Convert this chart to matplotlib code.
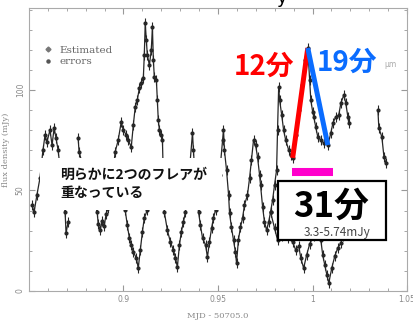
import numpy as np
import matplotlib
matplotlib.use('Agg')
import matplotlib.pyplot as plt
from matplotlib.lines import Line2D
from matplotlib.patches import Rectangle

# Light curve, upper trace (MJD - 50705.0, flux density in mJy); NaN = gap
est_mjd = [0.8516, 0.8527, 0.8542, 0.8558, 0.8574, 0.8585, 0.8595, 0.8611, 0.8622, 0.8633,
           0.8643, 0.8654, 0.8675, 0.8691, 0.8696, 0.8707, np.nan,
           0.8760, 0.8765, 0.8813, 0.8861, 0.8866, 0.8877, 0.8887, 0.8898, 0.8908, 0.8919,
           0.8940, 0.8956, 0.8972, 0.8988, 0.8999, 0.9015, 0.9025, 0.9041, 0.9052, 0.9062,
           0.9073, 0.9084, 0.9094, 0.9105, 0.9110, 0.9115, 0.9121, 0.9126, 0.9137, 0.9147,
           0.9153, 0.9158, 0.9163, 0.9174, 0.9179, 0.9184, 0.9190, 0.9200, 0.9206, 0.9211,
           0.9216, 0.9232, 0.9248, 0.9264, 0.9275, 0.9285, 0.9296, 0.9306, 0.9317, 0.9328,
           0.9349, 0.9365, 0.9370, 0.9381, 0.9397, 0.9407, 0.9418, 0.9434, 0.9444, 0.9455,
           0.9466, 0.9476, 0.9487, 0.9508, 0.9524, 0.9529, 0.9534, 0.9545, 0.9556, 0.9561,
           0.9571, 0.9582, 0.9592, 0.9598, 0.9608, 0.9619, 0.9630, 0.9640, 0.9656, 0.9667,
           0.9677, 0.9688, 0.9699, 0.9709, 0.9720, 0.9725, 0.9736, 0.9746, 0.9757, 0.9768,
           0.9778, 0.9789, 0.9799, 0.9810, 0.9815, 0.9821, 0.9826, 0.9837, 0.9847, 0.9858,
           0.9874, 0.9885, 0.9895, 0.9911, 0.9927, 0.9943, 0.9959, 0.9975, 0.9985, 0.9991,
           1.0001, 1.0007, 1.0017, 1.0028, 1.0044, 1.0060, 1.0081, 1.0097, 1.0108, 1.0123,
           1.0139, 1.0150, 1.0166, 1.0176, 1.0187, 1.0192, np.nan,
           1.0346, 1.0351, 1.0367, 1.0378, 1.0389]
est_flux = [42.8, 39.3, 47.8, 56.2, 70.1, 77.6, 74.1, 80.1, 72.6, 81.1,
            76.1, 70.1, 52.7, 39.3, 28.9, 34.3, np.nan,
            76.1, 69.2, 52.7, 39.3, 33.3, 30.3, 34.8, 32.3, 38.3, 41.3,
            55.2, 69.2, 75.1, 84.1, 80.1, 77.6, 75.1, 71.6, 82.6, 91.5,
            95.0, 101.0, 103.5, 106.0, 117.4, 133.3, 124.9, 117.4, 112.4, 119.9,
            131.3, 114.9, 106.5, 105.0, 95.0, 85.1, 80.1, 77.6, 75.1, 55.2,
            39.3, 30.3, 24.4, 20.4, 16.4, 11.9, 22.9, 29.4, 34.3, 39.3,
            60.2, 78.6, 70.1, 52.7, 39.3, 32.8, 26.4, 22.9, 16.9, 24.4,
            31.3, 36.3, 40.3, 57.7, 75.1, 80.1, 70.1, 60.2, 47.8, 38.8,
            31.8, 25.4, 19.4, 13.9, 25.4, 31.8, 36.3, 42.8, 47.8, 56.2,
            65.2, 75.1, 72.6, 66.7, 57.7, 52.7, 41.8, 34.3, 30.3, 34.3,
            39.3, 45.3, 52.7, 60.2, 80.1, 101.5, 95.0, 87.6, 80.1, 75.1,
            70.1, 67.7, 66.2, 77.6, 90.0, 102.5, 114.9, 120.9, 104.9, 95.0,
            89.1, 86.6, 81.6, 76.6, 75.1, 73.6, 72.6, 78.6, 83.6, 86.6,
            87.6, 93.5, 97.5, 93.5, 86.6, 83.6, np.nan,
            90.0, 81.1, 76.6, 66.7, 63.7]

# Lower trace
low_mjd = [0.9009, 0.9020, 0.9031, 0.9041, 0.9052, 0.9068, 0.9078, 0.9089, 0.9100, 0.9110,
           0.9126, np.nan,
           0.9778, 0.9799, 0.9815, 0.9837, 0.9868, 0.9895, 0.9911, 0.9927, 0.9938, 0.9953,
           0.9969, 0.9985, 1.0007, 1.0028, 1.0044, 1.0054, 1.0065, 1.0076, 1.0086, 1.0102,
           1.0118, 1.0134, 1.0150, 1.0161]
low_flux = [40.3, 32.8, 26.4, 22.9, 19.4, 16.4, 11.4, 20.4, 29.4, 36.3,
            40.3, np.nan,
            39.3, 31.3, 25.4, 27.4, 26.4, 24.4, 20.4, 22.4, 16.4, 11.4,
            17.9, 23.4, 27.4, 30.3, 25.4, 17.9, 12.9, 8.0, 4.0, 11.4,
            17.4, 21.4, 23.9, 27.4]
flux_err = 2.5  # mJy

# Flare timing (rise start, peak, decay end) and the combined span
rise_start = 0.9895
peak_time = 0.9975
decay_end = 1.0081
span = (0.9890, 1.0108)
span_level = 59.0

est_mjd = np.array(est_mjd)
est_flux = np.array(est_flux)

fig = plt.figure(figsize=(4.13, 3.22), dpi=100)
ax = fig.add_axes([0.0702, 0.0963, 0.9153, 0.8789])

ink = '#262626'
for t, f in [(est_mjd, est_flux), (low_mjd, low_flux)]:
    ax.errorbar(t, f, yerr=flux_err, fmt='-o', color=ink, ms=2.0, lw=0.9,
                elinewidth=0.8, capsize=0)

ax.set_xlim(0.85, 1.05)
ax.set_ylim(0, 140.8)
ax.set_xticks([0.9, 0.95, 1.0, 1.05])
ax.set_xticklabels(['0.9', '0.95', '1', '1.05'])
ax.set_yticks([0, 50, 100])
ax.set_xticks(np.arange(0.85, 1.0501, 0.01), minor=True)
ax.set_yticks(np.arange(0, 141, 10), minor=True)
ax.tick_params(which='both', direction='in', top=True, right=True,
               color='#999999', labelcolor='#888888', labelsize=5.5, pad=3)
ax.tick_params(which='major', length=4)
ax.tick_params(which='minor', length=2)
for lab in ax.get_yticklabels():
    lab.set_rotation(90)
    lab.set_va('center')
for s in ax.spines.values():
    s.set_color('#aaaaaa')
    s.set_linewidth(0.8)
ax.set_xlabel('MJD - 50705.0', fontsize=6, color='#888888', labelpad=6,
              family='DejaVu Serif')
ax.set_ylabel('flux density (mJy)', fontsize=6, color='#888888', labelpad=4,
              family='DejaVu Serif')

# legend of the original plot
handles = [Line2D([], [], marker='D', ms=2.5, ls='none', color='#777777'),
           Line2D([], [], marker='o', ms=2.2, ls='none', color='#555555')]
ax.legend(handles, ['Estimated', 'errors'], loc='upper left',
          bbox_to_anchor=(0.025, 0.885), frameon=False, handlelength=0.8,
          handletextpad=0.7, labelspacing=0.2, borderpad=0,
          prop={'family': 'DejaVu Serif', 'size': 7.5}, labelcolor='#666666')
ax.text(0.955, 0.80, 'μm', transform=ax.transAxes, fontsize=5.5, color='#aaaaaa',
        ha='center', va='center')

# rise / decay lines drawn through the flare points
i0 = np.nanargmin(np.abs(est_mjd - rise_start))
ip = np.nanargmin(np.abs(est_mjd - peak_time))
i1 = np.nanargmin(np.abs(est_mjd - decay_end))
ax.plot(est_mjd[[i0, ip]], est_flux[[i0, ip]], color='#ff0000', lw=3.6,
        solid_capstyle='butt', zorder=6)
ax.plot(est_mjd[[ip, i1]], est_flux[[ip, i1]], color='#0a6cff', lw=3.6,
        solid_capstyle='butt', zorder=6)
ax.plot(span, [span_level, span_level], color='#ff00cc', lw=5.8,
        solid_capstyle='butt', zorder=6)

jp = ['Noto Sans CJK JP', 'DejaVu Sans']
fig.text(0.639, 0.792, '12分', color='#ff0000', fontsize=20, weight='bold',
         family=jp, ha='center', va='center')
fig.text(0.840, 0.804, '19分', color='#0a6cff', fontsize=20, weight='bold',
         family=jp, ha='center', va='center')

# note box
fig.add_artist(Rectangle((0.0969, 0.3478), 0.4407, 0.1615, transform=fig.transFigure,
                         facecolor='white', edgecolor='none', zorder=2))
fig.text(0.1453, 0.4565, '明らかに2つのフレアが', fontsize=10, weight='bold',
         family=jp, color='#111111', ha='left', va='center', zorder=3)
fig.text(0.1453, 0.4006, '重なっている', fontsize=10, weight='bold',
         family=jp, color='#111111', ha='left', va='center', zorder=3)

# duration box
fig.add_artist(Rectangle((0.6731, 0.2547), 0.2615, 0.1832, transform=fig.transFigure,
                         facecolor='white', edgecolor='black', lw=1.6, zorder=2))
fig.text(0.8015, 0.3602, '31分', fontsize=25, weight='bold', family=jp,
         color='black', ha='center', va='center', zorder=3)
fig.text(0.816, 0.2764, '3.3-5.74mJy', fontsize=8.5, family=jp,
         color='#444444', ha='center', va='center', zorder=3)

fig.text(0.683, 0.991, 'y', fontsize=13, color='black', ha='center',
         va='baseline', family='DejaVu Sans')

fig.savefig('out.png', dpi=100)
